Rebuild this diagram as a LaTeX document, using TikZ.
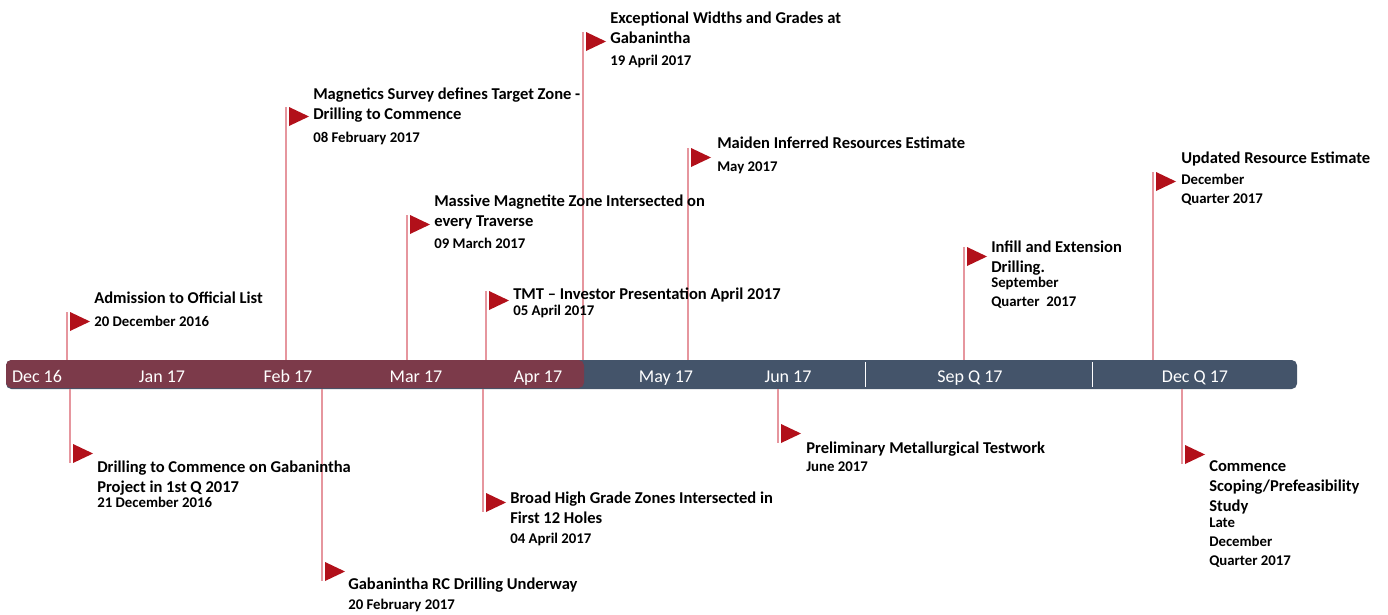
\documentclass[tikz,border=0pt]{standalone}
\usepackage{fontspec}
\setmainfont{Carlito}
\usepackage{xcolor}
\usepackage{tikz}

\definecolor{barred}{RGB}{124,58,74}
\definecolor{barslate}{RGB}{68,84,106}
\definecolor{flagred}{RGB}{178,16,26}
\definecolor{polepink}{RGB}{230,150,158}

% flag to the right of a pole top
\newcommand{\pennant}[1]{\fill[flag] (#1) ++(3,0) -- ++(20,9.5) -- ++(-20,9.5) -- cycle;}

\begin{document}
\begin{tikzpicture}[x=0.75pt,y=0.75pt,yscale=-1,xscale=1,
  pole/.style={draw=polepink, line width=1.5},
  flag/.style={fill=flagred},
  headline/.style={anchor=base west, inner sep=0pt, align=left, font=\fontsize{12.4}{15}\selectfont\bfseries},
  dateline/.style={anchor=base west, inner sep=0pt, align=left, font=\fontsize{11.1}{13.9}\selectfont\bfseries},
  month/.style={anchor=base, inner sep=0pt, text=white, font=\fontsize{13.5}{15}\selectfont}]
\useasboundingbox (0,0) rectangle (1388,614);

%Timeline bar
\fill [barslate, rounded corners=4] (6,360) rectangle (1297,389);
\fill [barred, rounded corners=4] (6,360) rectangle (584,388);
\draw [white, line width=0.6] (865,362) -- (865,387);
\draw [white, line width=0.6] (1092,362) -- (1092,387);
\coordinate (bartop) at (0,360);
\coordinate (barbot) at (0,389);

%Months on the bar
\node (dec16) [month] at (37,382) {Dec 16};
\node (jan17) [month] at (162,382) {Jan 17};
\node (feb17) [month] at (288,382) {Feb 17};
\node (mar17) [month] at (416,382) {Mar 17};
\node (apr17) [month] at (538,382) {Apr 17};
\node (may17) [month] at (666,382) {May 17};
\node (jun17) [month] at (788,382) {Jun 17};
\node (sepq17) [month] at (970,382) {Sep Q 17};
\node (decq17) [month] at (1195,382) {Dec Q 17};

%Pole tops (above the bar)
\coordinate (admission) at (67,312);
\coordinate (magnetics) at (286,107);
\coordinate (massive) at (407,215);
\coordinate (tmt) at (486,291);
\coordinate (exceptional) at (583,32);
\coordinate (maiden) at (688,148);
\coordinate (infill) at (964,247);
\coordinate (updated) at (1153,172);

%Flag tops (below the bar)
\coordinate (drilling) at (70,444);
\coordinate (rcdrill) at (322,562);
\coordinate (broad) at (483,493);
\coordinate (prelim) at (778,424);
\coordinate (scoping) at (1182,445);

%Poles above
\draw [pole] (admission) -- (admission |- bartop);
\draw [pole] (magnetics) -- (magnetics |- bartop);
\draw [pole] (massive) -- (massive |- bartop);
\draw [pole] (tmt) -- (tmt |- bartop);
\draw [pole] (exceptional) -- (exceptional |- bartop);
\draw [pole] (maiden) -- (maiden |- bartop);
\draw [pole] (infill) -- (infill |- bartop);
\draw [pole] (updated) -- (updated |- bartop);

%Poles below
\draw [pole] (drilling |- barbot) -- (drilling) -- ++(0,19);
\draw [pole] (rcdrill |- barbot) -- (rcdrill) -- ++(0,19);
\draw [pole] (broad |- barbot) -- (broad) -- ++(0,19);
\draw [pole] (prelim |- barbot) -- (prelim) -- ++(0,19);
\draw [pole] (scoping |- barbot) -- (scoping) -- ++(0,19);

%Flags
\pennant{admission}
\pennant{magnetics}
\pennant{massive}
\pennant{tmt}
\pennant{exceptional}
\pennant{maiden}
\pennant{infill}
\pennant{updated}
\pennant{drilling}
\pennant{rcdrill}
\pennant{broad}
\pennant{prelim}
\pennant{scoping}

% Text Node
\node (admtitle) [headline] at (94,303) {Admission to Official List};
\node (admdate) [dateline] at (94,326) {20 December 2016};
% Text Node
\node (magtitle) [headline] at (313,119) {Magnetics Survey defines Target Zone -\\Drilling to Commence};
\node (magdate) [dateline] at (313,142) {08 February 2017};
% Text Node
\node (mastitle) [headline] at (434,226) {Massive Magnetite Zone Intersected on\\every Traverse};
\node (masdate) [dateline] at (434,248) {09 March 2017};
% Text Node
\node (tmttitle) [headline] at (513,299) {TMT – Investor Presentation April 2017};
\node (tmtdate) [dateline] at (513,315) {05 April 2017};
% Text Node
\node (exctitle) [headline] at (610,43) {Exceptional Widths and Grades at\\Gabanintha};
\node (excdate) [dateline] at (610,65) {19 April 2017};
% Text Node
\node (maititle) [headline] at (717,148) {Maiden Inferred Resources Estimate};
\node (maidate) [dateline] at (717,171) {May 2017};
% Text Node
\node (inftitle) [headline] at (991,272) {Infill and Extension\\Drilling.};
\node (infdate) [dateline] at (991,306.5) {September\\Quarter~~2017};
% Text Node
\node (updtitle) [headline] at (1181,163) {Updated Resource Estimate};
\node (upddate) [dateline] at (1181,203.5) {December\\Quarter 2017};
% Text Node
\node (driltitle) [headline] at (97,492) {Drilling to Commence on Gabanintha\\Project in 1st Q 2017};
\node (drildate) [dateline] at (97,507) {21 December 2016};
% Text Node
\node (rctitle) [headline] at (348,589) {Gabanintha RC Drilling Underway};
\node (rcdate) [dateline] at (348,609) {20 February 2017};
% Text Node
\node (brotitle) [headline] at (510,523) {Broad High Grade Zones Intersected in\\First 12 Holes};
\node (brodate) [dateline] at (510,543) {04 April 2017};
% Text Node
\node (pretitle) [headline] at (806,453) {Preliminary Metallurgical Testwork};
\node (predate) [dateline] at (806,471) {June 2017};
% Text Node
\node (scotitle) [headline] at (1209,511) {Commence\\Scoping/Prefeasibility\\Study};
\node (scodate) [dateline] at (1209,565) {Late\\December\\Quarter 2017};
\end{tikzpicture}
\end{document}
